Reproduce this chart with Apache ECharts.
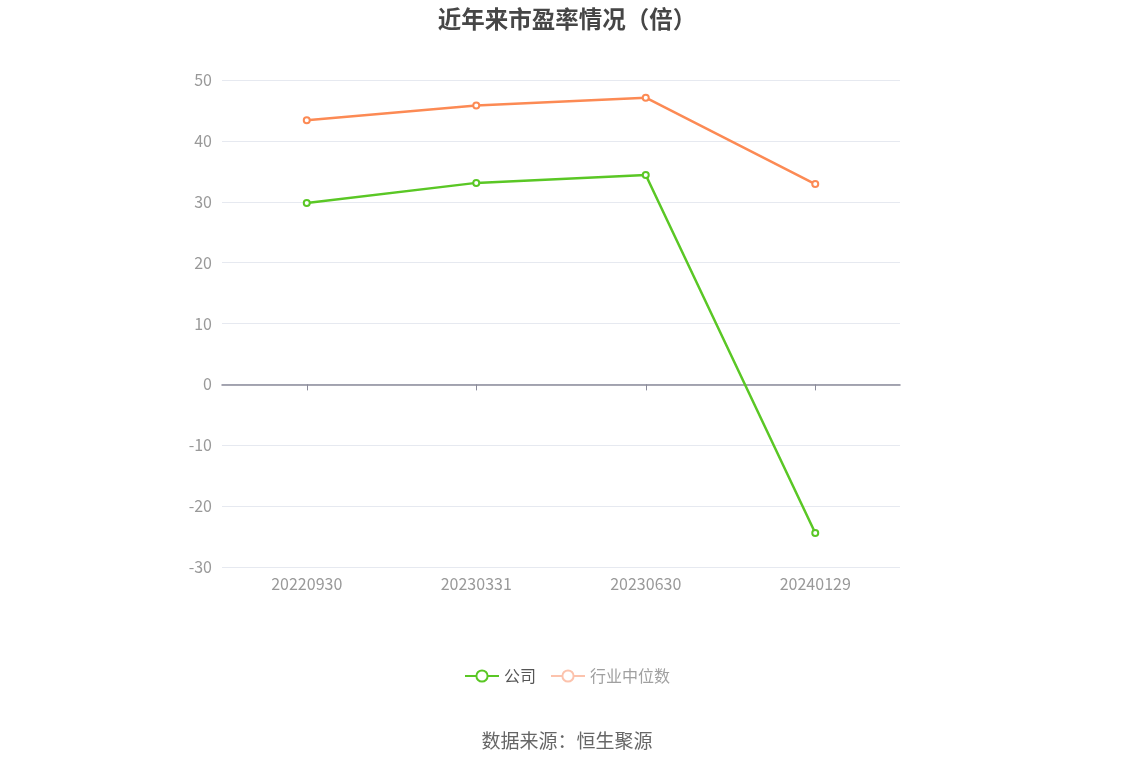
<!DOCTYPE html>
<html>
<head>
<meta charset="utf-8">
<script src="https://cdn.jsdelivr.net/npm/echarts@6/dist/echarts.min.js"></script>
<style>
html,body{margin:0;padding:0;background:#fff;overflow:hidden;}
#main{width:1134px;height:766px;}
</style>
</head>
<body>
<div id="main"></div>
<script>
const categories = ['20220930', '20230331', '20230630', '20240129'];
const companyPE = [29.8, 33.1, 34.4, -24.4];
const industryPE = [43.4, 45.8, 47.1, 32.9];
const yTicks = { min: -30, max: 50, interval: 10 };

const FONT = '"Microsoft YaHei", "Noto Sans CJK SC", sans-serif';
const chart = echarts.init(document.getElementById('main'), null, { width: 1134, height: 766 });
chart.setOption({
  backgroundColor: '#fff',
  textStyle: { fontFamily: FONT },
  title: {
    text: '近年来市盈率情况（倍）',
    left: 'center',
    top: 2,
    textStyle: { fontSize: 23.5, fontWeight: 'bold', color: '#464646', fontFamily: FONT }
  },
  grid: { left: 222, width: 678, top: 80, height: 487 },
  legend: {
    top: 663,
    left: 'center',
    itemWidth: 34,
    itemHeight: 14,
    itemGap: 14,
    textStyle: { fontSize: 16, color: '#555', fontFamily: FONT },
    data: [
      { name: '公司' },
      { name: '行业中位数', itemStyle: { color: '#fcc3ad', borderColor: '#fcc3ad' }, lineStyle: { color: '#fcc3ad' }, textStyle: { color: '#a0a0a0' } }
    ]
  },
  graphic: [{
    type: 'text',
    left: 'center',
    top: 731,
    style: { text: '数据来源：恒生聚源', fontSize: 19, fill: '#666', fontFamily: FONT }
  }],
  xAxis: [
    {
      type: 'category',
      data: categories,
      boundaryGap: true,
      axisLine: { onZero: true, lineStyle: { color: '#8a8a99', width: 1.5 } },
      axisTick: { show: true, interval: 0, alignWithLabel: true, length: 6, lineStyle: { color: '#8a8a99', width: 1 } },
      axisLabel: { show: true, interval: 0, formatter: function () { return ''; } }
    },
    {
      type: 'category',
      data: categories,
      position: 'bottom',
      boundaryGap: true,
      axisLine: { show: false, onZero: false },
      axisTick: { show: false },
      axisLabel: { color: '#999', fontSize: 16, margin: 9, fontFamily: FONT }
    }
  ],
  yAxis: {
    type: 'value',
    min: yTicks.min,
    max: yTicks.max,
    interval: yTicks.interval,
    axisLine: { show: false },
    axisTick: { show: false },
    axisLabel: { color: '#999', fontSize: 16, margin: 10, fontFamily: FONT },
    splitLine: { lineStyle: { color: '#e6e9f0', width: 1 } }
  },
  series: [
    {
      name: '公司',
      type: 'line',
      xAxisIndex: 0,
      data: companyPE,
      symbol: 'emptyCircle',
      symbolSize: 6,
      color: '#5ac725',
      lineStyle: { width: 2.5, color: '#5ac725' },
      itemStyle: { color: '#5ac725', borderWidth: 2 }
    },
    {
      name: '行业中位数',
      type: 'line',
      xAxisIndex: 0,
      data: industryPE,
      symbol: 'emptyCircle',
      symbolSize: 6,
      color: '#fc8a54',
      lineStyle: { width: 2.5, color: '#fc8a54' },
      itemStyle: { color: '#fc8a54', borderWidth: 2 }
    }
  ]
});
</script>
</body>
</html>
